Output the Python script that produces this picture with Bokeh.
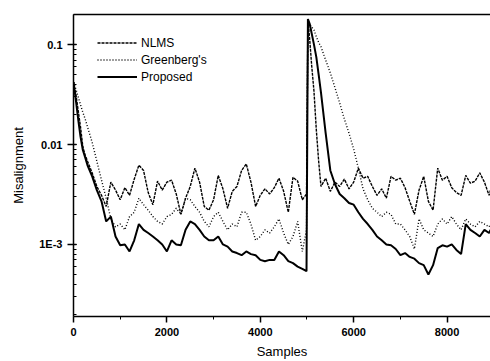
from bokeh.plotting import figure
from bokeh.models import Range1d, LinearAxis, FixedTicker, LogTicker, SingleIntervalTicker
from bokeh.embed import file_html
from bokeh.resources import INLINE

SAMPLES = [
    0, 50, 100, 150, 200, 250, 300, 400, 500, 600,
    700, 800, 900, 1000, 1100, 1200, 1300, 1400, 1500, 1600,
    1700, 1800, 1900, 2000, 2100, 2200, 2300, 2400, 2500, 2600,
    2700, 2800, 2900, 3000, 3100, 3200, 3300, 3400, 3500, 3600,
    3700, 3800, 3900, 4000, 4100, 4200, 4300, 4400, 4500, 4600,
    4700, 4800, 4900, 4990, 5020, 5060, 5100, 5150, 5200, 5250,
    5300, 5400, 5500, 5600, 5700, 5800, 5900, 6000, 6100, 6200,
    6300, 6400, 6500, 6600, 6700, 6800, 6900, 7000, 7100, 7200,
    7300, 7400, 7500, 7600, 7700, 7800, 7900, 8000, 8100, 8200,
    8300, 8400, 8500, 8600, 8700, 8800, 8900, 8930,
]

NLMS = [
    0.042, 0.032, 0.022, 0.015, 0.0095, 0.0078, 0.0068, 0.0052, 0.0038, 0.0031,
    0.0024, 0.0042, 0.0035, 0.0028, 0.0037, 0.0031, 0.0045, 0.0062, 0.0055, 0.0033,
    0.0025, 0.0043, 0.0035, 0.0042, 0.0044, 0.0032, 0.0020, 0.0029, 0.0038, 0.0058,
    0.0042, 0.0024, 0.0022, 0.0028, 0.0049, 0.0036, 0.0023, 0.0034, 0.0038, 0.0055,
    0.0064, 0.0042, 0.0024, 0.0031, 0.0036, 0.0032, 0.0037, 0.0046, 0.0034, 0.0021,
    0.0047, 0.0043, 0.0028, 0.0032, 0.18, 0.11, 0.062, 0.034, 0.014, 0.0068,
    0.0038, 0.0046, 0.0034, 0.0042, 0.0038, 0.0045, 0.0036, 0.0042, 0.0058, 0.0046,
    0.0048, 0.0038, 0.0031, 0.0036, 0.0029, 0.0048, 0.0044, 0.0046, 0.0037, 0.0027,
    0.0020, 0.0035, 0.0048, 0.0027, 0.0022, 0.0058, 0.0044, 0.0048, 0.0037, 0.0033,
    0.0031, 0.0049, 0.0041, 0.0043, 0.0052, 0.0042, 0.0031, 0.0035,
]

GREENBERG = [
    0.042, 0.036, 0.030, 0.025, 0.021, 0.018, 0.015, 0.0105, 0.0068, 0.0044,
    0.0029, 0.0018, 0.0015, 0.0016, 0.0014, 0.0019, 0.0021, 0.0029, 0.0025, 0.0022,
    0.0019, 0.0017, 0.0016, 0.0019, 0.0020, 0.0023, 0.0020, 0.0029, 0.0028, 0.0024,
    0.0021, 0.0017, 0.0015, 0.0019, 0.0021, 0.0017, 0.0014, 0.0016, 0.0015, 0.0021,
    0.0021, 0.0016, 0.0011, 0.0012, 0.0014, 0.0013, 0.0015, 0.0018, 0.0013, 0.0010,
    0.0012, 0.0017, 0.00085, 0.0014, 0.18, 0.16, 0.15, 0.14, 0.12, 0.105,
    0.095, 0.070, 0.052, 0.037, 0.026, 0.018, 0.013, 0.009, 0.0058, 0.0036,
    0.0028, 0.0023, 0.0021, 0.0019, 0.0021, 0.0020, 0.0016, 0.0016, 0.0014, 0.0012,
    0.0009, 0.0018, 0.0014, 0.0013, 0.0012, 0.0016, 0.0018, 0.0016, 0.0019, 0.0016,
    0.0014, 0.0018, 0.0016, 0.0015, 0.0017, 0.0016, 0.0015, 0.0016,
]

PROPOSED = [
    0.042, 0.028, 0.018, 0.012, 0.0088, 0.0074, 0.0062, 0.0048, 0.0035, 0.0027,
    0.0017, 0.0019, 0.0012, 0.00098, 0.0010, 0.00085, 0.0011, 0.0016, 0.0014, 0.0013,
    0.0012, 0.0011, 0.0010, 0.00085, 0.0011, 0.0010, 0.00098, 0.0014, 0.0017, 0.0016,
    0.0014, 0.0012, 0.0011, 0.0011, 0.0012, 0.0010, 0.00095, 0.00085, 0.00082, 0.00078,
    0.00085, 0.0008, 0.00078, 0.0007, 0.00068, 0.0007, 0.0007, 0.00085, 0.00078, 0.00068,
    0.00065, 0.0006, 0.00057, 0.00054, 0.18, 0.16, 0.13, 0.10, 0.075, 0.05,
    0.033, 0.013, 0.0055, 0.004, 0.0032, 0.0029, 0.0026, 0.0025, 0.0021, 0.0018,
    0.0016, 0.0014, 0.0012, 0.0011, 0.0010, 0.00098, 0.0009, 0.00078, 0.00082, 0.00075,
    0.00072, 0.00065, 0.00062, 0.00050, 0.00062, 0.00092, 0.00098, 0.00095, 0.0010, 0.00088,
    0.0008, 0.0016, 0.0014, 0.0013, 0.0012, 0.0014, 0.0013, 0.0014,
]

LABELS = ["NLMS", "Greenberg's", "Proposed"]
Y_TICK_LABELS = {0.1: "0.1", 0.01: "0.01", 0.001: "1E-3"}

FONT = "Liberation Sans"

p = figure(width=490, height=361, output_backend="svg", toolbar_location=None,
           y_axis_type="log", x_range=Range1d(0, 8930), y_range=Range1d(1.9e-4, 0.2),
           min_border_left=73, min_border_right=0, min_border_top=14, min_border_bottom=43)
p.outline_line_color = None
p.xgrid.visible = False
p.ygrid.visible = False
p.background_fill_color = "white"
p.border_fill_color = "white"

p.line(SAMPLES, NLMS, line_color="black", line_width=1.4, line_dash="3 1", legend_label=LABELS[0])
p.line(SAMPLES, GREENBERG, line_color="black", line_width=1.4, line_dash="1 2", legend_label=LABELS[1])
p.line(SAMPLES, PROPOSED, line_color="black", line_width=2, legend_label=LABELS[2])

# axes
xa = p.xaxis[0]
xa.ticker = SingleIntervalTicker(interval=2000, num_minor_ticks=2)
xa.axis_label = "Samples"
ya = p.yaxis[0]
ya.ticker = LogTicker(mantissas=[1], num_minor_ticks=10)
ya.major_label_overrides = Y_TICK_LABELS
ya.axis_label = "Misalignment"
for ax in (xa, ya):
    ax.axis_line_width = 1.5
    ax.axis_line_color = "black"
    ax.major_tick_line_color = "black"
    ax.minor_tick_line_color = "black"
    ax.major_tick_line_width = 1.5
    ax.major_tick_out = 6
    ax.major_tick_in = 0
    ax.major_label_text_font = FONT
    ax.major_label_text_font_style = "bold"
    ax.major_label_text_font_size = "11px"
    ax.major_label_text_color = "black"
    ax.axis_label_text_font = FONT
    ax.axis_label_text_font_style = "normal"
    ax.axis_label_text_font_size = "13px"
    ax.axis_label_text_color = "black"
xa.minor_tick_out = 3
xa.minor_tick_in = 0
xa.axis_label_standoff = 5
ya.minor_tick_out = 0
ya.minor_tick_in = 3
ya.major_tick_in = 3
ya.axis_label_standoff = 10

top = LinearAxis(ticker=FixedTicker(ticks=[]), axis_line_width=1.5, axis_line_color="black",
                 major_label_text_font_size="0px")
p.add_layout(top, "above")

lg = p.legend[0]
lg.location = (24, 231)
lg.border_line_color = None
lg.background_fill_alpha = 0
lg.padding = 0
lg.margin = 0
lg.spacing = 0
lg.glyph_width = 40
lg.glyph_height = 17
lg.label_height = 17
lg.label_standoff = 4
lg.label_text_font = FONT
lg.label_text_font_size = "12px"
lg.label_text_color = "black"

open("out.html", "w").write(file_html(p, INLINE))
